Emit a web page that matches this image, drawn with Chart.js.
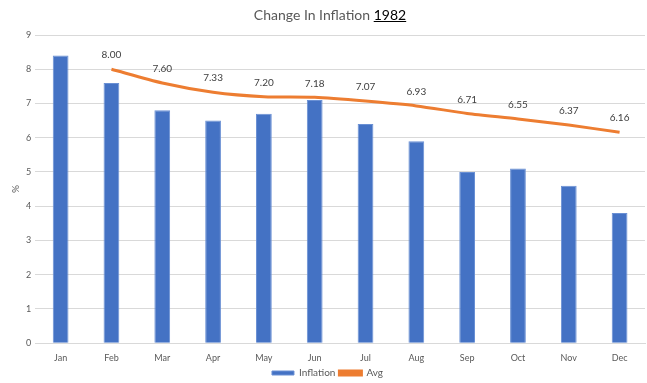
<!DOCTYPE html>
<html>
<head>
<meta charset="utf-8">
<script src="https://cdn.jsdelivr.net/npm/chart.js@4.4.0/dist/chart.umd.min.js"></script>
<style>
  html, body { margin: 0; padding: 0; background: #fff; }
  #wrap { position: relative; width: 647px; height: 383px; }
  #title {
    position: absolute; top: 6px; left: 0; width: 660px; text-align: center;
    font-family: Lato, "Open Sans", sans-serif; font-size: 14px; color: #595959;
  }
  #title u { color: #000; }
</style>
</head>
<body>
<div id="wrap">
  <div id="title">Change In Inflation <u>1982</u></div>
  <canvas id="chart" width="647" height="383"></canvas>
</div>
<script>
// Data
const months = ['Jan', 'Feb', 'Mar', 'Apr', 'May', 'Jun', 'Jul', 'Aug', 'Sep', 'Oct', 'Nov', 'Dec'];
const inflation = [8.4, 7.6, 6.8, 6.5, 6.7, 7.1, 6.4, 5.9, 5.0, 5.1, 4.6, 3.8];
const avg = [null, 8.00, 7.60, 7.33, 7.20, 7.18, 7.07, 6.93, 6.71, 6.55, 6.37, 6.16];
const yTicks = [0, 1, 2, 3, 4, 5, 6, 7, 8, 9];

const FONT = 'Lato, "Open Sans", sans-serif';

// labels above the Avg line
const avgLabels = {
    id: 'avgLabels',
    afterDatasetsDraw(chart) {
        const ctx = chart.ctx;
        const meta = chart.getDatasetMeta(1);
        ctx.save();
        ctx.font = '10px ' + FONT;
        ctx.fillStyle = '#404040';
        ctx.textAlign = 'center';
        ctx.textBaseline = 'bottom';
        meta.data.forEach((pt, i) => {
            if (avg[i] == null) return;
            ctx.fillText(avg[i].toFixed(2), pt.x, pt.y - 9);
        });
        ctx.restore();
    }
};

new Chart(document.getElementById('chart'), {
    data: {
        labels: months,
        datasets: [
            {
                type: 'bar',
                label: 'Inflation',
                data: inflation,
                backgroundColor: '#4472C4',
                borderColor: '#6a90d4',
                borderWidth: 1,
                barPercentage: 0.31,
                categoryPercentage: 1.0,
                order: 2
            },
            {
                type: 'line',
                label: 'Avg',
                data: avg,
                borderColor: '#ED7D31',
                backgroundColor: '#ED7D31',
                borderWidth: 3,
                pointRadius: 0,
                tension: 0.25,
                order: 1
            }
        ]
    },
    options: {
        responsive: false,
        animation: false,
        layout: { padding: { top: 35, right: 2, left: 10, bottom: -5 } },
        plugins: {
            title: { display: false },
            tooltip: { enabled: false },
            legend: {
                position: 'bottom',
                labels: {
                    font: { family: FONT, size: 10 },
                    color: '#595959',
                    boxWidth: 22,
                    boxHeight: 4,
                    padding: 4,
                    sort: (a, b) => a.datasetIndex - b.datasetIndex
                }
            }
        },
        scales: {
            x: {
                grid: { display: false },
                border: { display: true, color: '#d9d9d9' },
                ticks: { font: { family: FONT, size: 9 }, color: '#595959', padding: 1 }
            },
            y: {
                min: 0,
                max: 9,
                afterBuildTicks(axis) { axis.ticks = yTicks.map(v => ({ value: v })); },
                grid: { color: '#d9d9d9', drawTicks: false },
                border: { display: false },
                ticks: { font: { family: FONT, size: 9 }, color: '#595959', padding: 4 },
                title: { display: true, text: '%', font: { family: FONT, size: 10 }, color: '#595959', padding: 0 }
            }
        }
    },
    plugins: [avgLabels]
});
</script>
</body>
</html>
